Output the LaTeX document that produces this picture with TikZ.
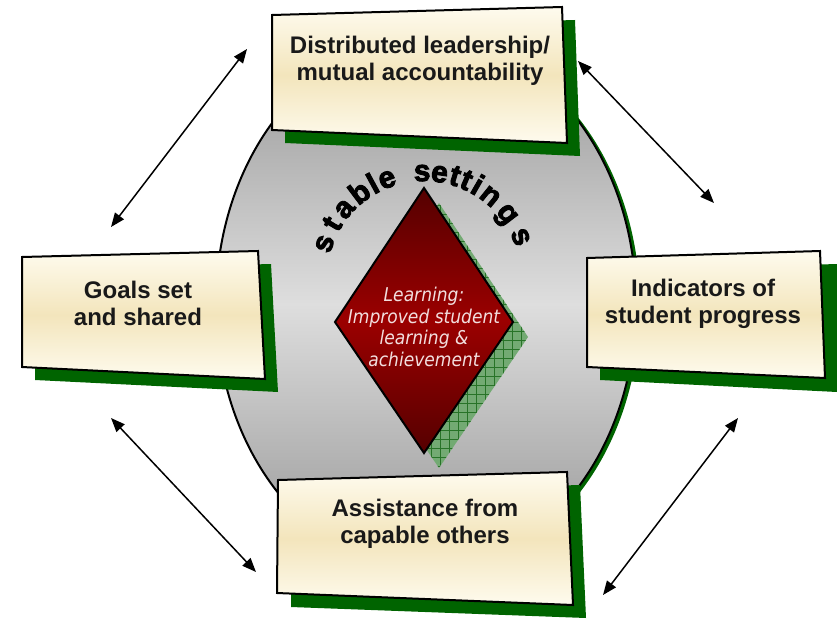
\documentclass[tikz,border=0pt]{standalone}
\usepackage{fontspec}
\setmainfont{Liberation Sans}
\newfontfamily\dfont{DejaVu Sans Condensed}
\newfontfamily\arcfont{Liberation Sans}[BoldFeatures={FakeBold=3}]
\usetikzlibrary{arrows.meta}
\definecolor{shadowgreen}{RGB}{0,100,0}
\definecolor{creamA}{RGB}{254,251,238}
\definecolor{creamB}{RGB}{243,229,188}
\definecolor{redA}{RGB}{85,0,0}
\definecolor{redB}{RGB}{155,0,0}
\definecolor{hatchbg}{RGB}{115,170,115}
\definecolor{hatchln}{RGB}{40,115,40}
\definecolor{pinktext}{RGB}{242,222,222}
\tikzset{
  boxshadow/.style={fill=shadowgreen},
  boxface/.style={draw=black, line width=2pt, line join=miter, top color=creamA, bottom color=creamA, middle color=creamB},
  boxtext/.style={font=\bfseries\fontsize{24}{27}\selectfont, align=center, text=black!90},
  dbl/.style={line width=1.5pt, {Triangle[length=14pt,width=11pt]}-{Triangle[length=14pt,width=11pt]}},
  arcletter/.style={font=\arcfont\bfseries\fontsize{30}{30}\selectfont, inner sep=0pt, anchor=base}
}
\begin{document}
\begin{tikzpicture}[x=1pt,y=-1pt]
\useasboundingbox (0,0) rectangle (837,618);
% central disc
\fill[shadowgreen] (430,306) ellipse [x radius=210, y radius=266];
\draw[line width=2pt, top color=black!42, bottom color=black!42, middle color=black!13] (426,304) ellipse [x radius=210, y radius=266];
% diamond shadow with crosshatch
\begin{scope}
  \clip (439,203) -- (528,337) -- (439,468) -- (350,337) -- cycle;
  \fill[hatchbg] (340,195) rectangle (535,475);
  \foreach \gx in {341,350,...,535} { \draw[hatchln, line width=0.6pt] (\gx,195) -- (\gx,475); }
  \foreach \gy in {196,205,...,475} { \draw[hatchln, line width=0.6pt] (340,\gy) -- (535,\gy); }
\end{scope}
% diamond
\draw[line width=2pt, line join=miter, top color=redA, bottom color=redA, middle color=redB] (424,188) -- (513,322) -- (424,453) -- (335,322) -- cycle;
\node[font=\dfont\itshape\fontsize{19}{21.7}\selectfont, text=pinktext, align=center, inner sep=0pt] (learn) at (424,327) {Learning:\\Improved student\\learning \&\\achievement};
% arc text
\foreach \ch/\ang [count=\i] in {s/161,t/149.5,a/139,b/127,l/118.5,e/110.5,s/91,e/81.5,t/73,t/66.5,i/60,n/51,g/37.5,s/23}{
  \node[arcletter, rotate=\ang-90] (arc\i) at ({424+97*cos(\ang)},{278-97*sin(\ang)}) {\ch};
}
% top box
\fill[boxshadow] (285,28) -- (575,20) -- (580,156) -- (285,143) -- cycle;
\path[boxface] (272,15) -- (562,7) -- (567,143) -- (272,130) -- cycle;
\node[boxtext] (top) at (420,60.5) {Distributed leadership/\\mutual accountability};
% left box
\fill[boxshadow] (35,270) -- (271,264) -- (278,392) -- (35,380) -- cycle;
\path[boxface] (22,257) -- (258,251) -- (265,379) -- (22,367) -- cycle;
\node[boxtext] (left) at (138,303.5) {Goals set\\and shared};
% right box
\fill[boxshadow] (600,271) -- (837,264) -- (837,392) -- (600,380) -- cycle;
\path[boxface] (587,258) -- (820,251) -- (825,378) -- (587,367) -- cycle;
\node[boxtext] (right) at (703,303.5) {Indicators of\\student progress};
% bottom box
\fill[boxshadow] (291,493) -- (580,485) -- (586,618) -- (291,607) -- cycle;
\path[boxface] (278,480) -- (567,472) -- (573,605) -- (277,593) -- cycle;
\node[boxtext] (bottom) at (425,524) {Assistance from\\capable others};
% arrows
\coordinate (a1) at (111,227); \coordinate (a2) at (247,49);
\coordinate (b1) at (578,61);  \coordinate (b2) at (714,203);
\coordinate (c1) at (111,418); \coordinate (c2) at (256,572);
\coordinate (d1) at (738,418); \coordinate (d2) at (603,595);
\draw[dbl] (a1) -- (a2);
\draw[dbl] (b1) -- (b2);
\draw[dbl] (c1) -- (c2);
\draw[dbl] (d1) -- (d2);
\end{tikzpicture}
\end{document}
